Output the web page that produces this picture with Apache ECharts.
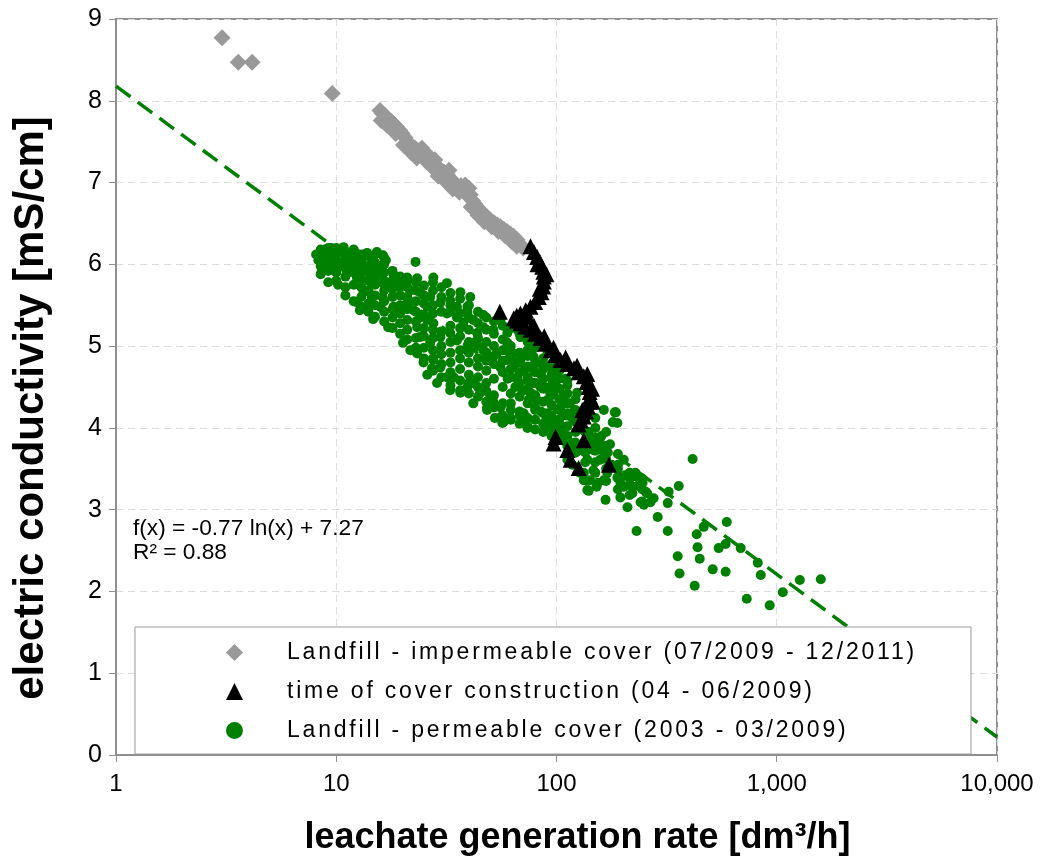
<!DOCTYPE html>
<html><head><meta charset="utf-8">
<script src="https://cdn.jsdelivr.net/npm/echarts@6/dist/echarts.min.js"></script>
<style>html,body{margin:0;padding:0;background:#fff}#c{width:1043px;height:856px}</style>
</head><body><div id="c"></div>
<script>
const seriesNames = [
  'Landfill - impermeable cover (07/2009 - 12/2011)',
  'time of cover construction (04 - 06/2009)',
  'Landfill - permeable cover (2003 - 03/2009)'
];
const xTitle = 'leachate generation rate [dm³/h]';
const yTitle = 'electric conductivity [mS/cm]';
const trendText = ['f(x) = -0.77 ln(x) + 7.27', 'R² = 0.88'];

const impermeable = [
  [3.03,8.77],[3.59,8.47],[4.15,8.47],[9.59,8.09],
  [15.8,7.88],[16.1,7.85],[16.6,7.82],[17.2,7.78],[17.7,7.75],[18.2,7.72],[18.8,7.68],[19.4,7.64],
  [19.9,7.60],[20.5,7.55],[21.3,7.48],[22.0,7.45],[22.8,7.42],[23.5,7.39],[24.1,7.36],[25.0,7.35],
  [26.0,7.33],[26.7,7.31],[27.6,7.25],[28.7,7.19],[29.7,7.16],[30.8,7.13],[31.9,7.10],[33.0,7.05],
  [34.2,7.00],[35.4,6.95],[36.8,6.96],[38.5,6.97],[40.0,6.93],[40.6,6.85],[41.5,6.78],[42.5,6.74],
  [43.6,6.70],[45.0,6.66],[46.6,6.62],[48.4,6.58],[50.2,6.54],[52.0,6.51],[53.8,6.48],[55.6,6.46],
  [57.6,6.43],[59.6,6.40],[61.8,6.37],[64.0,6.34],[66.2,6.30],[68.6,6.24],[70.5,6.20],
  [16.0,7.76],[17.0,7.70],[18.6,7.60],[20.2,7.46],[21.8,7.37],[23.2,7.30],[25.6,7.26],[27.0,7.20],
  [29.0,7.08],[31.2,7.02],[33.8,6.92],[36.2,6.88],[38.8,6.86],[41.0,6.70],[44.0,6.60],[47.0,6.52],
  [50.8,6.46],[54.5,6.40],[58.5,6.35],[62.5,6.28],[66.0,6.22],[24.5,7.42],[28.0,7.28],[32.5,7.15]
];

const construction = [
  [76.2,6.22],[79,6.15],[81.7,6.09],[84,6.03],[86.1,5.97],[87.2,5.91],[87.6,5.85],[87.6,5.79],
  [87,5.73],[85.5,5.66],[83.1,5.60],[80,5.54],[76.2,5.48],[72.5,5.44],[68.6,5.40],[66,5.37],
  [64,5.34],[66,5.31],[68.6,5.28],[72,5.24],[76.2,5.20],[80,5.15],[84.6,5.10],[89,5.03],
  [93.9,4.95],[99,4.89],[104.3,4.83],[112,4.78],[120,4.73],[126,4.68],[133,4.63],[137,4.56],
  [140,4.50],[141.5,4.44],[142,4.38],[141,4.32],[139,4.26],[136,4.20],[133,4.14],[129,4.09],
  [126,4.04],[55.3,5.42],[99,3.89],[97,3.81],[133,3.85],[112,3.73],[116,3.61],[126,3.51],[173,3.55],
  [82,6.0],[90,5.88],[84,5.70],[74,5.36],[79,5.25],[88,5.12],[97,4.98],[110,4.86],[124,4.76],
  [138,4.66],[145,4.48],[146,4.32],[131,4.22]
];

const permeable = [
  [8.1,6.12],[8.3,6.05],[8.5,6.15],[8.7,6.08],[8.9,6.18],[9.1,6.02],[9.3,6.12],[9.5,6.2],[9.7,5.97],
  [9.9,6.08],[10.2,6.15],[10.5,6.02],[10.8,6.21],[11.0,6.1],[11.2,5.89],[11.5,6.05],[11.9,6.01],
  [12.2,6.14],[12.4,5.84],[12.8,6.08],[13.3,5.66],[13.8,6.14],[13.8,5.97],[14.3,5.78],[14.6,6.05],
  [15.3,6.15],[15.6,5.98],[16.3,6.11],[16.8,6.05],[9.2,5.78],[10.2,5.75],[8.6,5.92],[10.0,5.9],
  [12.0,5.95],[13.0,6.0],[22.9,6.03],
  [12.3,5.54],[12.8,5.44],[14.7,5.33],[14.5,5.6],[16.2,5.6],[15.9,5.48],[17.2,5.23],[15.9,5.89],
  [18.2,5.87],[21,5.84],[23.3,5.83],[19.5,5.72],[21.7,5.68],[24,5.66],[17.6,5.72],[16.3,5.77],
  [26.7,5.6],[29.7,5.53],[32.9,5.56],[25.9,5.48],[35.3,5.48],[39.4,5.48],[31.8,5.4],[35.3,5.35],
  [37.8,5.29],[41.9,5.32],[46.6,5.23],[51.7,5.2],[43.6,5.16],[59.8,5.16],[68.6,5.11],[59.8,5.04],
  [73.8,4.95],[63.8,4.91],[78.6,4.87],[84.6,4.79],[68.6,4.83],
  [27.6,5.84],[31.8,5.77],[36.6,5.66],[40.6,5.6],[39.4,5.42],[46.6,5.38],[55.7,5.32],[66.5,5.2],
  [78.6,5.07],[91,4.91],[104,4.74],[112,4.58],[124,4.43],
  [21,5.53],[22.4,5.44],[24,5.35],[25.9,5.32],[23.3,5.23],[27.6,5.28],[19.5,5.40],[18.2,5.48],
  [24,5.11],[26.7,5.04],[29.7,5.11],[32.9,5.16],[35.3,5.07],[39.4,4.99],[41.9,5.04],[46.6,4.95],
  [48.4,4.87],[53.6,4.91],[59.8,4.83],[63.8,4.74],[55.7,4.74],[66.5,4.62],[73.8,4.58],[78.6,4.71],
  [84.6,4.50],[76.2,4.43],[91,4.34],[96.9,4.43],[104,4.25],[112,4.18],[119,4.10],[97,4.10],
  [91,4.18],[107,4.01],[133,3.97],[142,3.85],[147,3.73],[138,3.61],[158,3.61],[170,3.45],
  [142,3.36],[195,3.33],[223,3.28],[240,3.33],[164,4.22],[186,4.19],[181,4.07],
  [20.1,5.04],[21.7,4.95],[25.9,4.65],[28.7,4.55],[32.9,4.46],[36.6,4.43],[41.9,4.30],[48.4,4.25],
  [55.7,4.13],[57.5,4.07],[61.8,4.12],[73.8,4.0],[41.9,4.55],[45,4.43],[31.8,4.62],[27.2,4.73],
  [24.9,4.80],[23.3,4.91],[27.6,4.83],[29.7,4.74],[34.1,4.62],[39.4,4.5],[51.7,4.32],[50.1,4.38],
  [40.6,4.55],[48.4,4.22],[52.5,4.12],[56.8,4.06],[55.7,4.25],[71,4.06],[71,4.18],[81.6,4.34],
  [93.6,4.43],[91,4.01],[104,3.94],[112,3.61],[138,3.24],[154,3.33],[164,3.36],[133,3.36],
  [147,3.77],[164,3.70],[202,3.61],[228,3.45],[241,3.28],[258,3.20],
  [60,4.6],[65,4.5],[70,4.45],[75,4.35],[80,4.25],[85,4.2],[90,4.1],[95,4.05],[100,4.0],[105,3.95],
  [110,3.88],[115,3.82],[120,3.78],[125,3.72],[88,4.5],[95,4.6],[100,4.5],[108,4.4],[115,4.3],
  [120,4.2],[125,4.1],[130,4.05],[110,4.6],[100,4.7],[92,4.75],[85,4.65],[78,4.55],[72,4.72],
  [65,4.8],[58,4.95],[62,4.3],[68,4.2],
  [140,3.95],[150,3.88],[155,3.75],[165,3.65],[178,3.55],[190,3.5],[205,3.42],[215,3.38],
  [160,3.9],[175,3.8],[118,3.55],[128,3.45],[122,3.7],
  [184,4.19],[180,4.07],[189,4.06],[157,3.83],[171,3.70],[189,3.39],[167,3.12],[195,3.15],
  [210,3.03],[202,3.28],[221,3.20],[233,3.40],[246,3.33],[254,3.22],[241,3.09],[267,3.09],
  [276,3.14],[249,3.06],[140,3.23],[152,3.28],[136,3.36],[133,3.45],[147,3.48],
  [415,3.62],[359,3.29],[323,3.22],[320,3.08],[288,2.91],[231,2.74],[320,2.74],[433,2.70],
  [466,2.79],[593,2.85],[586,2.58],[545,2.53],[686,2.53],[437,2.54],[355,2.43],[447,2.40],
  [512,2.27],[586,2.24],[362,2.22],[424,2.07],[846,2.20],[820,2.35],[1273,2.14],[1585,2.15],
  [1065,1.99],[731,1.91],[929,1.83],
  [8.5,5.88],[8.5,5.98],[8.5,6.08],[8.5,6.18],[9.2,5.92],[9.2,6.02],[9.2,6.12],[9.2,6.2],
  [10,5.8],[10,5.95],[10,6.05],[10,6.12],[10,6.2],
  [11,5.62],[11,5.72],[11,5.85],[11,5.95],[11,6.05],[11,6.15],
  [12,5.55],[12,5.75],[12,5.9],[12,6.0],[12,6.1],[12,6.18],
  [13,5.48],[13,5.6],[13,5.72],[13,5.82],[13,5.92],[13,6.05],[13,6.12],
  [14,5.42],[14,5.52],[14,5.68],[14,5.8],[14,5.9],[14,5.98],[14,6.1],
  [15,5.36],[15,5.5],[15,5.62],[15,5.75],[15,5.85],[15,5.95],[15,6.02],[15,6.12],
  [16.5,5.3],[16.5,5.42],[16.5,5.55],[16.5,5.68],[16.5,5.8],[16.5,5.9],[16.5,6.0],[16.5,6.08],
  [18,5.22],[18,5.35],[18,5.45],[18,5.6],[18,5.7],[18,5.8],[18,5.92],
  [19.5,5.15],[19.5,5.28],[19.5,5.5],[19.5,5.62],[19.5,5.75],[19.5,5.85],
  [21,5.08],[21,5.2],[21,5.32],[21,5.45],[21,5.6],[21,5.72],[21,5.8],
  [23,4.98],[23,5.1],[23,5.3],[23,5.42],[23,5.55],[23,5.68],[23,5.78],
  [25,4.85],[25,4.98],[25,5.12],[25,5.22],[25,5.38],[25,5.52],[25,5.62],[25,5.74],
  [27.5,4.7],[27.5,4.85],[27.5,4.95],[27.5,5.1],[27.5,5.2],[27.5,5.4],[27.5,5.5],[27.5,5.68],[27.5,5.78],
  [30,4.62],[30,4.78],[30,4.9],[30,5.0],[30,5.18],[30,5.42],[30,5.6],[30,5.72],
  [33,4.52],[33,4.68],[33,4.8],[33,4.92],[33,5.05],[33,5.25],[33,5.42],[33,5.5],[33,5.65],
  [36.5,4.46],[36.5,4.58],[36.5,4.72],[36.5,4.85],[36.5,4.95],[36.5,5.12],[36.5,5.22],[36.5,5.4],[36.5,5.58],
  [40,4.42],[40,4.55],[40,4.65],[40,4.8],[40,4.92],[40,5.05],[40,5.2],[40,5.35],[40,5.5],
  [44,4.38],[44,4.5],[44,4.62],[44,4.75],[44,4.85],[44,5.0],[44,5.1],[44,5.28],[44,5.42],
  [48,4.32],[48,4.45],[48,4.55],[48,4.7],[48,4.82],[48,4.92],[48,5.05],[48,5.2],[48,5.35],
  [52,4.25],[52,4.4],[52,4.6],[52,4.78],[52,4.88],[52,5.0],[52,5.15],[52,5.3],
  [57,4.15],[57,4.3],[57,4.5],[57,4.68],[57,4.82],[57,4.95],[57,5.08],[57,5.25],
  [62,4.1],[62,4.22],[62,4.42],[62,4.62],[62,4.72],[62,4.88],[62,5.0],[62,5.22],
  [68,4.05],[68,4.15],[68,4.38],[68,4.55],[68,4.68],[68,4.8],[68,4.92],[68,5.15],
  [74,4.02],[74,4.12],[74,4.3],[74,4.48],[74,4.62],[74,4.75],[74,4.88],[74,5.05],
  [80,3.98],[80,4.1],[80,4.22],[80,4.4],[80,4.55],[80,4.68],[80,4.8],[80,4.98],
  [87,3.95],[87,4.05],[87,4.18],[87,4.32],[87,4.48],[87,4.6],[87,4.72],[87,4.85],
  [95,3.9],[95,4.0],[95,4.15],[95,4.28],[95,4.4],[95,4.52],[95,4.65],[95,4.78],
  [103,3.85],[103,3.95],[103,4.1],[103,4.22],[103,4.35],[103,4.48],[103,4.6],[103,4.7],
  [112,3.78],[112,3.9],[112,4.02],[112,4.15],[112,4.3],[112,4.42],[112,4.52],
  [122,3.7],[122,3.82],[122,3.95],[122,4.08],[122,4.22],[122,4.35],
  [135,3.58],[135,3.7],[135,3.82],[135,3.95],[135,4.1],[135,4.22],
  [150,3.45],[150,3.58],[150,3.72],[150,3.85],[150,4.0],[150,4.12],
  [168,3.35],[168,3.5],[168,3.62],[168,3.78],[168,3.95],
  [190,3.25],[190,3.4],[190,3.55],[190,3.68],
  [215,3.18],[215,3.3],[215,3.45],[245,3.1],[245,3.25],[245,3.38]
];

const trendLine = [[1,8.18],[10000,0.22]];

// legend text in the reference is drawn with wider letter spacing
(function(){
  const P = CanvasRenderingContext2D.prototype;
  const of = P.fillText;
  P.fillText = function(t, x, y, m){
    if ('letterSpacing' in this) this.letterSpacing = /Arial/.test(this.font) ? '2.8px' : '0px';
    return m === undefined ? of.call(this, t, x, y) : of.call(this, t, x, y, m);
  };
})();

const AX = '#8f8f8f';
const FONT = 'Liberation Sans';

const chart = echarts.init(document.getElementById('c'), null, {renderer:'canvas'});
chart.setOption({
  animation:false,
  backgroundColor:'#fff',
  grid:{left:116,right:46,top:19,bottom:101,containLabel:false,outerBoundsMode:'none',
        show:true,borderColor:AX,borderWidth:2,backgroundColor:'transparent'},
  xAxis:{
    type:'log', logBase:10, min:1, max:10000,
    name:xTitle, nameLocation:'middle', nameGap:65,
    nameTextStyle:{fontFamily:FONT,fontWeight:'bold',fontSize:36,color:'#000',padding:[0,0,0,42]},
    axisLine:{show:true,lineStyle:{color:AX,width:2}},
    axisTick:{show:true,length:7,lineStyle:{color:AX,width:1}},
    axisLabel:{fontFamily:FONT,fontSize:24,color:'#000',margin:17,
      formatter:v=>Math.round(v).toLocaleString('en-US')},
    splitLine:{show:true,lineStyle:{color:'#dcdcdc',type:[7,5],width:1}}
  },
  yAxis:{
    type:'value', min:0, max:9, interval:1,
    name:yTitle, nameLocation:'middle', nameGap:64,
    nameTextStyle:{fontFamily:FONT,fontWeight:'bold',fontSize:42,color:'#000',padding:[0,42,0,0]},
    axisLine:{show:true,lineStyle:{color:AX,width:2}},
    axisTick:{show:true,length:7,lineStyle:{color:AX,width:1}},
    axisLabel:{fontFamily:FONT,fontSize:25,color:'#000',margin:14},
    splitLine:{show:true,lineStyle:{color:'#dcdcdc',type:[7,5],width:1}}
  },
  legend:{
    orient:'vertical', left:226, top:640, padding:0,
    itemWidth:17, itemHeight:17, itemGap:14, z:6,
    textStyle:{fontFamily:'Liberation Sans, Arial',fontSize:23,color:'#000',lineHeight:25,padding:[0,0,0,39]},
    data:seriesNames
  },
  graphic:[
    {type:'rect', z:5, shape:{x:135,y:627,width:836,height:127},
     style:{fill:'#fff',stroke:'#9a9a9a',lineWidth:1}},
    {type:'text', z:5, x:133, y:517,
     style:{text:trendText.join('\n'),fontFamily:FONT,fontSize:22.7,fill:'#000',lineHeight:24,verticalAlign:'top'}}
  ],
  series:[
    {name:seriesNames[2], type:'scatter', data:permeable, symbol:'circle', symbolSize:10,
     itemStyle:{color:'#008000',opacity:1}, z:2},
    {name:seriesNames[0], type:'scatter', data:impermeable, symbol:'diamond', symbolSize:17,
     itemStyle:{color:'#999999',opacity:1}, z:3},
    {name:seriesNames[1], type:'scatter', data:construction, symbol:'triangle', symbolSize:16,
     itemStyle:{color:'#000000',opacity:1}, z:4},
    {name:'trend', type:'line', data:trendLine, showSymbol:false, symbol:'none',
     lineStyle:{color:'#008000',width:3.5,type:[18,9]}, z:4, silent:true}
  ]
});
</script></body></html>
